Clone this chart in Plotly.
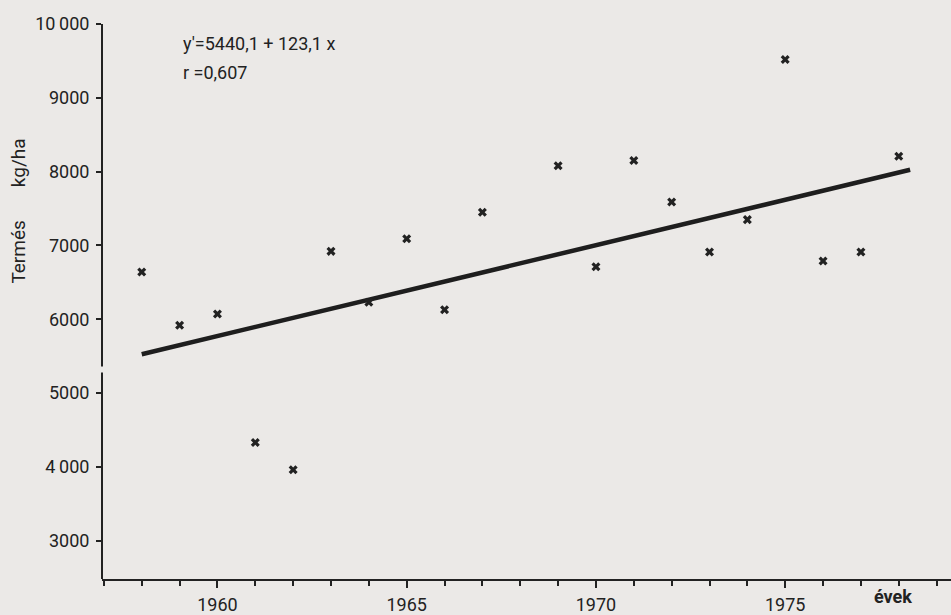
import plotly.graph_objects as go

# Data
years = [1958, 1959, 1960, 1961, 1962, 1963, 1964, 1965, 1966, 1967,
         1969, 1970, 1971, 1972, 1973, 1974, 1975, 1976, 1977, 1978]
yields = [6640, 5920, 6070, 4330, 3960, 6920, 6230, 7090, 6130, 7450,
          8080, 6710, 8150, 7590, 6910, 7350, 9520, 6790, 6910, 8210]

# Regression: y' = a + b*x, x = year - base
reg_a = 5440.1
reg_b = 123.1
reg_base_year = 1957.3
reg_years = [1958, 1978.3]
reg_values = [reg_a + reg_b * (y - reg_base_year) for y in reg_years]

y_ticks = [3000, 4000, 5000, 6000, 7000, 8000, 9000, 10000]
y_ticklabels = ["3000", "4\u2009000", "5000", "6000", "7000", "8000", "9000", "10\u2009000"]
x_ticks = [1960, 1965, 1970, 1975]
x_ticklabels = ["1960", "1965", "1970", "1975"]

ink = "#222222"
bg = "#ebe9e7"
font_family = "Roboto, 'DejaVu Sans', sans-serif"

fig = go.Figure()

fig.add_trace(go.Scatter(
    x=reg_years, y=reg_values, mode="lines",
    line=dict(color="#1e1e1e", width=4.5),
    showlegend=False, hoverinfo="skip",
))

fig.add_trace(go.Scatter(
    x=years, y=yields, mode="markers",
    marker=dict(symbol="x", size=8, color=ink, line=dict(width=0)),
    showlegend=False,
))

fig.update_layout(
    width=951, height=615,
    margin=dict(l=102, r=0, t=24, b=26),
    paper_bgcolor=bg, plot_bgcolor=bg,
    font=dict(family=font_family, size=18, color=ink),
    xaxis=dict(
        range=[1956.95, 1979.38],
        tickmode="array", tickvals=x_ticks, ticktext=x_ticklabels,
        ticks="outside", ticklen=7, tickwidth=2, tickcolor=ink,
        minor=dict(dtick=1, tick0=1957, ticks="outside", ticklen=5, tickwidth=2, tickcolor=ink),
        showline=True, linewidth=2, linecolor=ink,
        showgrid=False, zeroline=False,
        ticklabelstandoff=1,
        tickfont=dict(size=18, color=ink),
    ),
    yaxis=dict(
        range=[2480, 10001],
        tickmode="array", tickvals=y_ticks, ticktext=y_ticklabels,
        ticks="outside", ticklen=5, tickwidth=2, tickcolor=ink,
        showline=False, showgrid=False, zeroline=False,
        ticklabelstandoff=3,
        tickfont=dict(size=18, color=ink),
    ),
    shapes=[
        dict(type="line", xref="paper", yref="y", x0=0, x1=0, y0=2480, y1=5280,
             line=dict(color=ink, width=2)),
        dict(type="line", xref="paper", yref="y", x0=0, x1=0, y0=5360, y1=10001,
             line=dict(color=ink, width=2)),
    ],
    annotations=[
        dict(text="y\u2032=5440,1 + 123,1 x", xref="x", yref="y", x=1959.05, y=9740,
             xanchor="left", yanchor="middle", showarrow=False,
             font=dict(size=18, color=ink)),
        dict(text="r =0,607", xref="x", yref="y", x=1959.05, y=9350,
             xanchor="left", yanchor="middle", showarrow=False,
             font=dict(size=18, color=ink)),
        dict(text="Termés       kg/ha", xref="paper", yref="paper",
             x=(19 - 102) / 849, y=(589 - 215) / 565, textangle=-90,
             xanchor="center", yanchor="middle", showarrow=False,
             font=dict(size=19, color=ink)),
        dict(text="<b>évek</b>", xref="x", yref="paper", x=1977.85, y=(589 - 607) / 565,
             xanchor="center", yanchor="middle", showarrow=False,
             font=dict(size=18, color=ink)),
    ],
)

fig.write_html("out.html")
